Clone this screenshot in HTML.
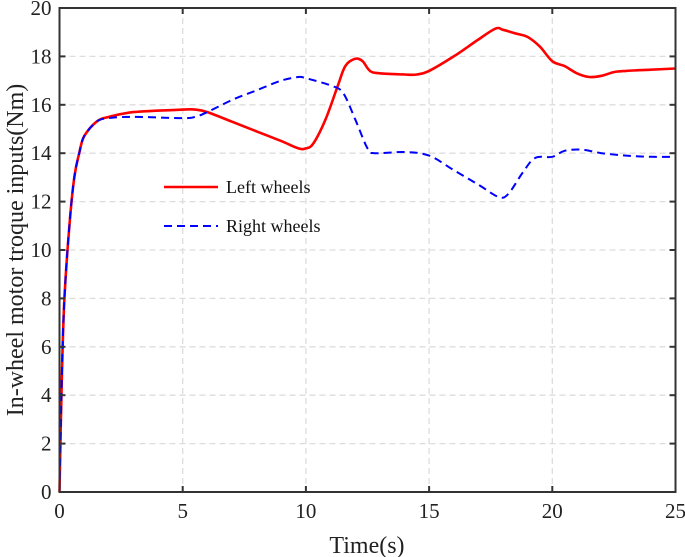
<!DOCTYPE html>
<html><head><meta charset="utf-8"><style>
body{margin:0;background:#fff;}
svg{display:block;font-family:"Liberation Serif",serif;}
</style></head><body>
<svg id="chart" width="685" height="557"></svg>
<script>
const timeRed=[0,0.1,0.2,0.4,0.6,0.8,1.0,1.5,2,3,5,5.5,6,7,8,9,9.7,10,10.3,10.8,11.3,11.6,12,12.3,12.6,13,14,14.5,15,16,17,17.7,18,18.5,19,19.5,20,20.5,21,21.5,22,22.5,23,24,25];
const leftWheels=[0,5,8,11,13,14,14.7,15.3,15.5,15.7,15.8,15.8,15.7,15.3,14.9,14.5,14.2,14.2,14.4,15.4,16.8,17.6,17.9,17.8,17.4,17.3,17.25,17.25,17.4,18.0,18.7,19.15,19.1,18.95,18.8,18.4,17.8,17.6,17.3,17.15,17.2,17.35,17.4,17.45,17.5];
const timeBlue=[0,0.1,0.2,0.4,0.6,0.8,1.0,1.5,2,3,5,5.5,6,7,8,9,9.7,10,11,11.5,12,12.5,12.8,14,15,16,17,17.8,18.2,18.8,19.3,20,20.5,21.2,22,23,24,25];
const rightWheels=[0,5,8,11,13,14,14.7,15.3,15.45,15.5,15.45,15.5,15.7,16.2,16.6,17.0,17.15,17.1,16.8,16.5,15.4,14.2,14.0,14.05,13.9,13.3,12.7,12.2,12.3,13.2,13.8,13.85,14.1,14.15,14.0,13.9,13.85,13.85];
const xTicks=[0,5,10,15,20,25];
const yTicks=[0,2,4,6,8,10,12,14,16,18,20];
const NS="http://www.w3.org/2000/svg";
const svg=document.getElementById('chart');
const X0=59.5,X1=675.5,Y0=492,Y1=8;
const sx=t=>X0+(t/25)*(X1-X0);
const sy=v=>Y0-(v/20)*(Y0-Y1);
function mk(tag,attrs,parent){const e=document.createElementNS(NS,tag);for(const k in attrs)e.setAttribute(k,attrs[k]);(parent||svg).appendChild(e);return e;}
const grid=mk('g',{});


xTicks.forEach(t=>{if(t>0&&t<25){const l=mk('line',{x1:sx(t),x2:sx(t),y1:Y1,y2:Y0,stroke:'#ddd','stroke-dasharray':'6,4','stroke-width':1.3},grid);}});
yTicks.forEach(v=>{if(v>0&&v<20){const l=mk('line',{x1:X0,x2:X1,y1:sy(v),y2:sy(v),stroke:'#ddd','stroke-dasharray':'6,4','stroke-width':1.3},grid);}});
function path(ts,vs){
 const p=ts.map((t,i)=>[sx(t),sy(vs[i])]);
 let d='M'+p[0][0].toFixed(1)+','+p[0][1].toFixed(1);
 for(let i=0;i<p.length-1;i++){
  const a=p[Math.max(0,i-1)],b=p[i],c=p[i+1],e=p[Math.min(p.length-1,i+2)];
  const c1=[b[0]+(c[0]-a[0])/6,b[1]+(c[1]-a[1])/6],c2=[c[0]-(e[0]-b[0])/6,c[1]-(e[1]-b[1])/6];
  d+=' C'+c1.map(v=>v.toFixed(1))+' '+c2.map(v=>v.toFixed(1))+' '+c.map(v=>v.toFixed(1));
 }
 return d;
}
const red=mk('path',{d:path(timeRed,leftWheels),fill:'none',stroke:'#ff0000','stroke-width':2.6,'stroke-linejoin':'round'});


const blue=mk('path',{d:path(timeBlue,rightWheels),fill:'none',stroke:'#0000ff','stroke-width':2,'stroke-dasharray':'8,5','stroke-linejoin':'round'});


const box=mk('rect',{x:X0,y:Y1,width:X1-X0,height:Y0-Y1,fill:'none',stroke:'#333','stroke-width':2});


xTicks.forEach(t=>{
 mk('line',{x1:sx(t),x2:sx(t),y1:Y0,y2:Y0-6,stroke:'#333','stroke-width':2});
 mk('line',{x1:sx(t),x2:sx(t),y1:Y1,y2:Y1+6,stroke:'#333','stroke-width':2});
 const tx=mk('text',{x:sx(t),y:Y0+26,'font-size':21,'text-anchor':'middle',fill:'#222'});tx.textContent=t;
 
 
});
yTicks.forEach(v=>{
 mk('line',{x1:X0,x2:X0+6,y1:sy(v),y2:sy(v),stroke:'#333','stroke-width':2});
 mk('line',{x1:X1,x2:X1-6,y1:sy(v),y2:sy(v),stroke:'#333','stroke-width':2});
 const tx=mk('text',{x:X0-8,y:sy(v)+7,'font-size':21,'text-anchor':'end',fill:'#222'});tx.textContent=v;
 
 
});
const xt=mk('text',{x:367,y:553,'font-size':24,'text-anchor':'middle',fill:'#222'});xt.textContent='Time(s)';


const yt=mk('text',{x:0,y:0,'font-size':24,'text-anchor':'middle',fill:'#222',transform:'translate(23,250) rotate(-90)'});yt.textContent='In-wheel motor troque inputs(Nm)';


const l1=mk('g',{});


mk('line',{x1:164,x2:218,y1:187,y2:187,stroke:'#ff0000','stroke-width':2.6},l1);
const t1=mk('text',{x:226,y:193,'font-size':18,fill:'#111'},l1);t1.textContent='Left wheels';
const l2=mk('g',{});


mk('line',{x1:164,x2:218,y1:226,y2:226,stroke:'#0000ff','stroke-width':2,'stroke-dasharray':'8,5'},l2);
const t2=mk('text',{x:226,y:232,'font-size':18,fill:'#111'},l2);t2.textContent='Right wheels';
</script>
</body></html>
